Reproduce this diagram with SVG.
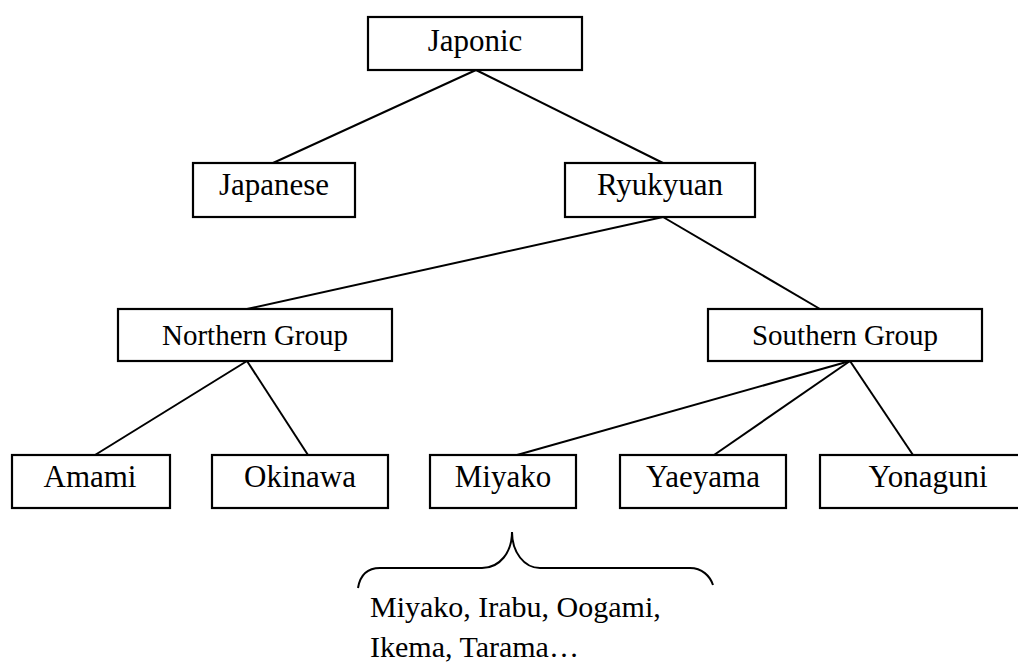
<svg xmlns="http://www.w3.org/2000/svg" width="1018" height="664" viewBox="0 0 1018 664">
<style>
.box{fill:#fff;stroke:#000;stroke-width:2.2}
.t{font-family:"Liberation Serif","Times New Roman",serif;font-size:31px;fill:#000;text-anchor:middle}
.g{font-size:29px}
.a{font-family:"Liberation Serif","Times New Roman",serif;font-size:30px;fill:#000}
.c{stroke:#000;stroke-width:2;fill:none}
</style>
<rect width="1018" height="664" fill="#fff"/>
<g id="connectors">
<line class="c" x1="476" y1="70" x2="273" y2="163"/>
<line class="c" x1="476" y1="70" x2="663" y2="163"/>
<line class="c" x1="663" y1="217" x2="247" y2="309"/>
<line class="c" x1="663" y1="217" x2="820" y2="309"/>
<line class="c" x1="247" y1="361" x2="95" y2="455"/>
<line class="c" x1="247" y1="361" x2="308" y2="455"/>
<line class="c" x1="850" y1="361" x2="517" y2="455"/>
<line class="c" x1="850" y1="361" x2="714" y2="455"/>
<line class="c" x1="850" y1="361" x2="913" y2="455"/>
</g>
<g id="japonic"><rect class="box" x="368" y="17" width="214" height="53"/><text class="t" x="475" y="51">Japonic</text></g>
<g id="japanese"><rect class="box" x="193" y="163" width="162" height="54"/><text class="t" x="274" y="195">Japanese</text></g>
<g id="ryukyuan"><rect class="box" x="565" y="163" width="190" height="54"/><text class="t" x="660" y="195">Ryukyuan</text></g>
<g id="northern"><rect class="box" x="118" y="309" width="274" height="52"/><text class="t g" x="255" y="345">Northern Group</text></g>
<g id="southern"><rect class="box" x="708" y="309" width="274" height="52"/><text class="t g" x="845" y="345">Southern Group</text></g>
<g id="amami"><rect class="box" x="12" y="455" width="158" height="53"/><text class="t" x="90" y="487">Amami</text></g>
<g id="okinawa"><rect class="box" x="212" y="455" width="176" height="53"/><text class="t" x="300" y="487">Okinawa</text></g>
<g id="miyako"><rect class="box" x="430" y="455" width="146" height="53"/><text class="t" x="503" y="487">Miyako</text></g>
<g id="yaeyama"><rect class="box" x="620" y="455" width="166" height="53"/><text class="t" x="703" y="487">Yaeyama</text></g>
<g id="yonaguni"><rect class="box" x="820" y="455" width="220" height="53"/><text class="t" x="928" y="487">Yonaguni</text></g>
<g id="miyako-dialects">
<path class="c" d="M358,588 C360,576 366,568 380,568 H482 C500,568 512,552 512,532 C512,552 524,568 540,568 H690 C702,568 710,576 713,585"/>
<text class="a" x="370" y="617">Miyako, Irabu, Oogami,</text>
<text class="a" x="370" y="657">Ikema, Tarama…</text>
</g>
</svg>
